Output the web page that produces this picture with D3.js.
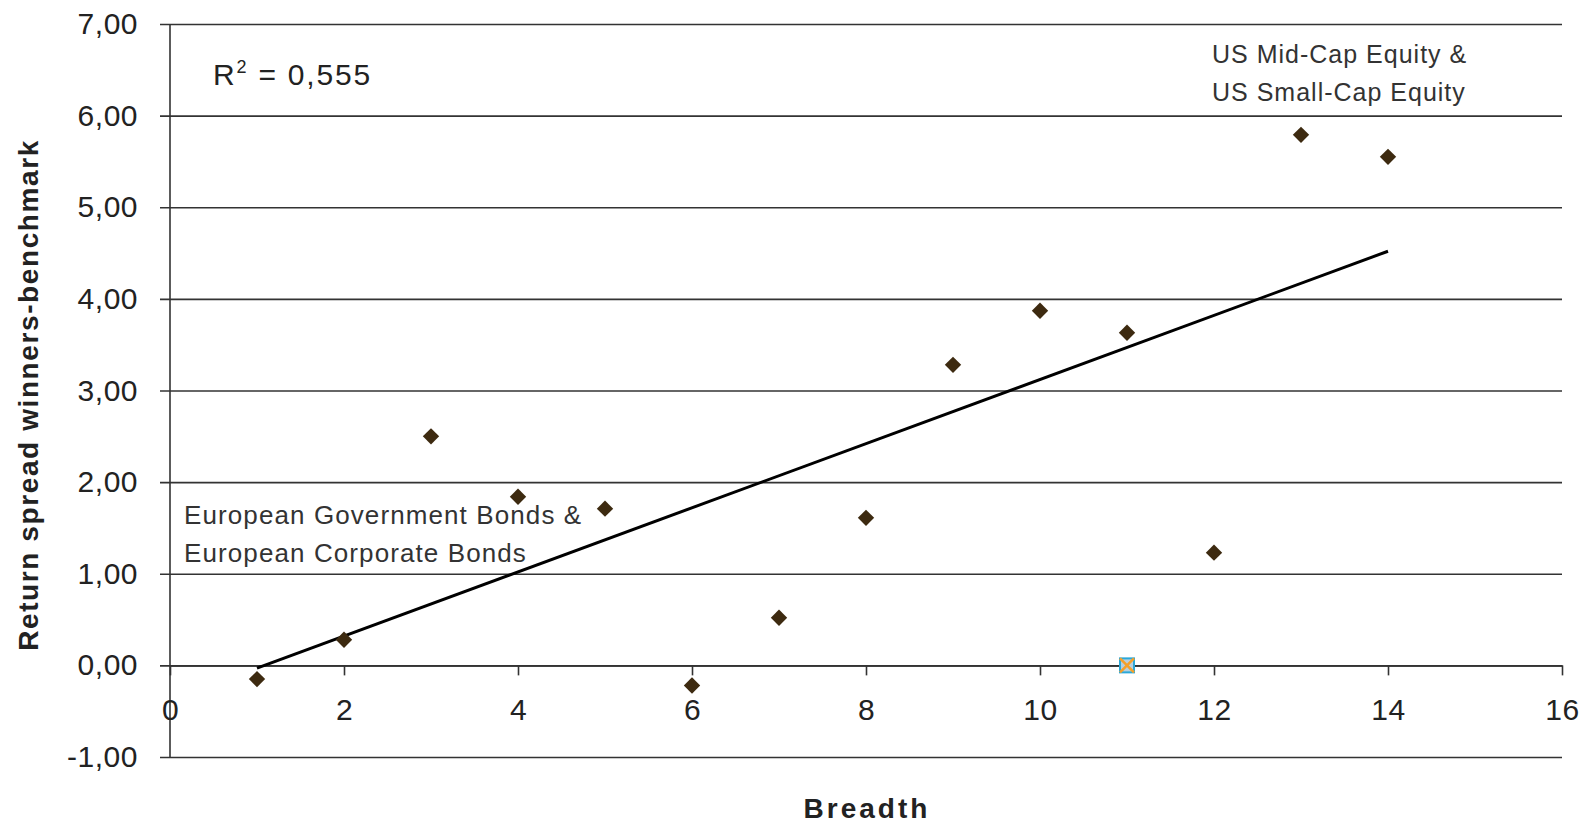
<!DOCTYPE html>
<html>
<head>
<meta charset="utf-8">
<script src="https://cdn.jsdelivr.net/npm/d3@7"></script>
<style>
  body { margin: 0; background: #fff; }
  text { font-family: Arial, "Liberation Sans", sans-serif; }
</style>
</head>
<body>
<div id="chart"></div>
<script>
const breadth = [1, 2, 3, 4, 5, 6, 7, 8, 9, 10, 11, 12, 13, 14]
const spread = [-0.15, 0.28, 2.5, 1.84, 1.71, -0.22, 0.52, 1.61, 3.28, 3.87, 3.63, 1.23, 5.79, 5.55]
const extraX = [11]
const extraY = [0]
const trendX = [1, 14]
const trendY = [-0.03, 4.52]
const xTicks = [0, 2, 4, 6, 8, 10, 12, 14, 16]
const yTicks = [-1, 0, 1, 2, 3, 4, 5, 6, 7]

const W = 1589
const H = 825
const MARGIN = { TOP: 24, BOTTOM: 68, LEFT: 170, RIGHT: 27 }
const WIDTH = W - MARGIN.LEFT - MARGIN.RIGHT
const HEIGHT = H - MARGIN.TOP - MARGIN.BOTTOM
const fmt = v => d3.format(".2f")(v).replace(".", ",").replace("\u2212", "-")

const svg = d3.select("#chart")
              .append("svg")
              .attr("width", W)
              .attr("height", H)
              .append("g")
              .attr("transform", `translate(${MARGIN.LEFT}, ${MARGIN.TOP})`)

const x = d3.scaleLinear().domain([0, 16]).range([0, WIDTH])
const y = d3.scaleLinear().domain([-1, 7]).range([HEIGHT, 0])

// horizontal gridlines with y ticks
const yAxis = svg.append("g")
                 .call(d3.axisLeft(y)
                         .tickValues(yTicks)
                         .tickSize(-WIDTH)
                         .tickSizeOuter(0)
                         .tickPadding(32)
                         .tickFormat(fmt))
yAxis.select(".domain").remove()
yAxis.selectAll(".tick line")
     .attr("x1", -10)
     .attr("stroke", "#333")
     .attr("stroke-width", 1.6)
yAxis.selectAll(".tick text")
     .attr("font-size", 30)
     .attr("letter-spacing", 0.5)
     .attr("fill", "#222")

svg.append("line")
   .attr("x1", 0).attr("x2", 0)
   .attr("y1", 0).attr("y2", HEIGHT)
   .attr("stroke", "#333")
   .attr("stroke-width", 1.6)

// x axis sits on y = 0
const xAxis = svg.append("g")
                 .attr("transform", `translate(0, ${y(0)})`)
                 .call(d3.axisBottom(x)
                         .tickValues(xTicks)
                         .tickSize(10)
                         .tickSizeOuter(0)
                         .tickPadding(23))
xAxis.select(".domain").attr("stroke", "#333").attr("stroke-width", 1.6)
xAxis.selectAll(".tick line").attr("stroke", "#333").attr("stroke-width", 1.6)
xAxis.selectAll(".tick text")
     .attr("font-size", 30)
     .attr("letter-spacing", 0.5)
     .attr("fill", "#222")

// trend line
const line = d3.line()
               .x(d => x(d[0]))
               .y(d => y(d[1]))
svg.append("path")
   .datum(d3.zip(trendX, trendY))
   .attr("fill", "none")
   .attr("stroke", "#000")
   .attr("stroke-width", 3)
   .attr("d", line)

// points
const diamond = d3.symbol().type(d3.symbolDiamond2).size(170)
svg.selectAll(".pt")
   .data(d3.zip(breadth, spread))
   .join("path")
   .attr("class", "pt")
   .attr("transform", d => `translate(${x(d[0])}, ${y(d[1])})`)
   .attr("d", diamond)
   .attr("fill", "#3d2a10")

const extra = svg.selectAll(".extra")
                 .data(d3.zip(extraX, extraY))
                 .join("g")
                 .attr("class", "extra")
                 .attr("transform", d => `translate(${x(d[0])}, ${y(d[1])})`)
extra.append("rect")
     .attr("x", -7).attr("y", -7)
     .attr("width", 14).attr("height", 14)
     .attr("fill", "#b9cfdc")
     .attr("stroke", "#2ba8d8")
     .attr("stroke-width", 2)
extra.append("path")
     .attr("d", "M-7,-7L7,7M7,-7L-7,7")
     .attr("stroke", "#f5a02a")
     .attr("stroke-width", 2.5)

// annotations
const r2 = svg.append("text")
              .attr("x", 43)
              .attr("y", 61)
              .attr("font-size", 30)
              .attr("letter-spacing", 1.8)
              .attr("fill", "#222")
r2.append("tspan").text("R")
r2.append("tspan").attr("dy", -12).attr("font-size", 18).text("2")
r2.append("tspan").attr("dy", 12).text(" = 0,555")

const noteUS = ["US Mid-Cap Equity &", "US Small-Cap Equity"]
const noteEU = ["European Government Bonds &", "European Corporate Bonds"]
function note(lines, nx, ny, size, spacing) {
  svg.append("g")
     .selectAll("text")
     .data(lines)
     .join("text")
     .attr("x", nx)
     .attr("y", (d, i) => ny + i * 38)
     .attr("font-size", size)
     .attr("letter-spacing", spacing)
     .attr("fill", "#333")
     .text(d => d)
}
note(noteUS, 1042, 39, 25, 1)
note(noteEU, 14, 500, 26, 1.1)

// axis titles
svg.append("text")
   .attr("x", WIDTH / 2 + 1)
   .attr("y", HEIGHT + 61)
   .attr("text-anchor", "middle")
   .attr("font-size", 28)
   .attr("font-weight", "bold")
   .attr("letter-spacing", 3)
   .attr("fill", "#222")
   .text("Breadth")
svg.append("text")
   .attr("transform", `translate(-132, ${395 - MARGIN.TOP}) rotate(-90)`)
   .attr("text-anchor", "middle")
   .attr("font-size", 28)
   .attr("font-weight", "bold")
   .attr("letter-spacing", 1.6)
   .attr("fill", "#222")
   .text("Return spread winners-benchmark")
</script>
</body>
</html>
